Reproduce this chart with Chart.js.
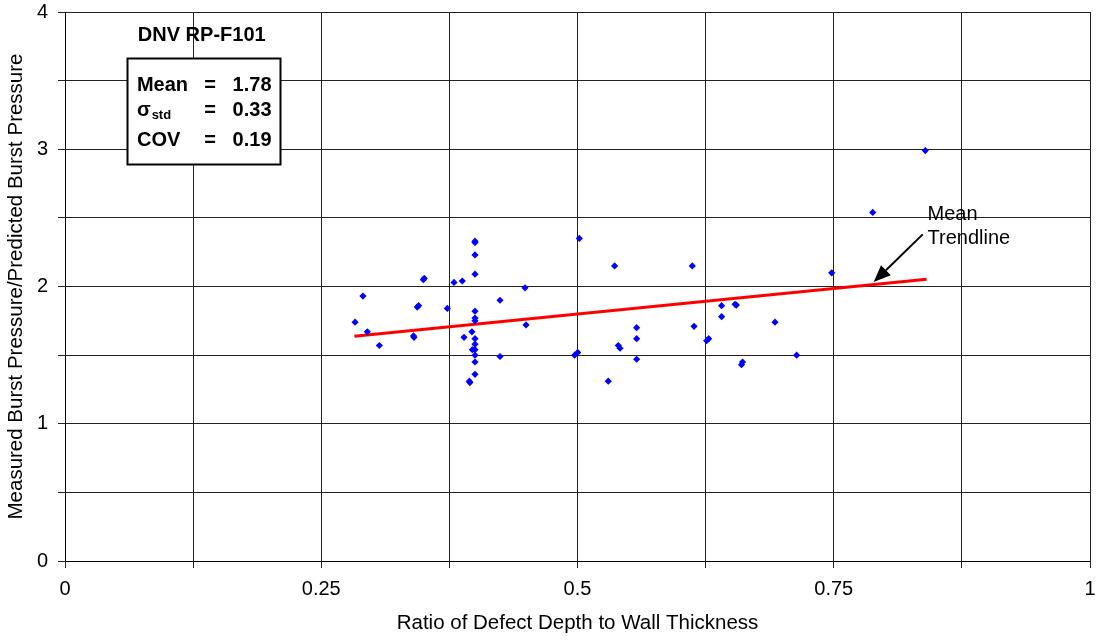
<!DOCTYPE html>
<html>
<head>
<meta charset="utf-8">
<title>DNV RP-F101 burst pressure ratio</title>
<script src="https://cdn.jsdelivr.net/npm/chart.js@4/dist/chart.umd.min.js"></script>
<style>
  html, body { margin: 0; padding: 0; background: #fff; }
  #wrap { width: 1099px; height: 640px; }
</style>
</head>
<body>
<div id="wrap"><canvas id="myChart" width="1099" height="640"></canvas></div>
<script>
// depth ratio d/t for each test
const depthRatio = [
  0.400, 0.400, 0.400, 0.400, 0.3505, 0.3496, 0.3795, 0.3876, 0.2907, 0.4488,
  0.4244, 0.345, 0.3437, 0.373, 0.400, 0.400, 0.400, 0.283, 0.4498, 0.295,
  0.397, 0.340, 0.3405, 0.3893, 0.400, 0.400, 0.3974, 0.400, 0.400, 0.3067,
  0.4244, 0.400, 0.400, 0.3945, 0.395,
  0.5018, 0.5362, 0.612, 0.6406, 0.6537, 0.655, 0.6406, 0.6927, 0.5577, 0.6137,
  0.5577, 0.628, 0.626, 0.5398, 0.5415, 0.5002, 0.4972, 0.5577, 0.7138, 0.661,
  0.660, 0.530,
  0.8393, 0.788, 0.748
];
// measured / predicted burst pressure
const pressureRatio = [
  2.33, 2.32, 2.23, 2.09, 2.06, 2.05, 2.03, 2.04, 1.93, 1.99,
  1.90, 1.86, 1.85, 1.84, 1.82, 1.77, 1.75, 1.74, 1.72, 1.67,
  1.67, 1.64, 1.63, 1.63, 1.62, 1.58, 1.54, 1.54, 1.50, 1.57,
  1.49, 1.45, 1.36, 1.31, 1.30,
  2.35, 2.15, 2.15, 1.86, 1.87, 1.865, 1.78, 1.74, 1.70, 1.71,
  1.62, 1.62, 1.605, 1.57, 1.55, 1.52, 1.50, 1.47, 1.50, 1.45,
  1.43, 1.31,
  2.99, 2.54, 2.10
];
// mean trendline end points
const trendX = [0.2823, 0.8406];
const trendY = [1.637, 2.052];

const xTicks = [0, 0.25, 0.5, 0.75, 1];
const yTicks = [0, 1, 2, 3, 4];

const statLabels = ['Mean', 'σ', 'COV'];
const statValues = ['1.78', '0.33', '0.19'];

const FONT = "'Liberation Sans', Arial, Helvetica, sans-serif";

const points = depthRatio.map((d, i) => ({ x: d, y: pressureRatio[i] }));
const trend = trendX.map((d, i) => ({ x: d, y: trendY[i] }));

// keep the plot box fixed: no extra room for the end tick labels
function fixBox(size) {
  return s => {
    if (s.isHorizontal()) s.height = size; else s.width = size;
    s.paddingTop = s.paddingBottom = s.paddingLeft = s.paddingRight = 0;
  };
}

// stats box, title and arrow note, placed in data units
const notes = {
  id: 'notes',
  afterDraw(chart) {
    const ctx = chart.ctx;
    const sx = chart.scales.x, sy = chart.scales.y;
    const px = v => sx.getPixelForValue(v);
    const py = v => sy.getPixelForValue(v);
    ctx.save();
    ctx.fillStyle = '#000';

    // title
    ctx.font = 'bold 20px ' + FONT;
    ctx.textAlign = 'center';
    ctx.textBaseline = 'middle';
    ctx.fillText('DNV RP-F101', px(0.1334), py(3.832));

    // box
    const bx0 = Math.round(px(0.0605)) + 0.5, bx1 = Math.round(px(0.2098)) + 0.5;
    const by0 = Math.round(py(3.665)) + 0.5, by1 = Math.round(py(2.893)) + 0.5;
    ctx.fillStyle = '#fff';
    ctx.fillRect(bx0, by0, bx1 - bx0, by1 - by0);
    ctx.strokeStyle = '#000';
    ctx.lineWidth = 2;
    ctx.strokeRect(bx0, by0, bx1 - bx0, by1 - by0);

    ctx.fillStyle = '#000';
    const rows = [3.468, 3.286, 3.067];
    rows.forEach((r, i) => {
      const yy = py(r);
      ctx.font = 'bold 20px ' + FONT;
      ctx.textAlign = 'left';
      ctx.fillText(statLabels[i], px(0.0702), yy);
      if (i === 1) {
        const w = ctx.measureText(statLabels[i]).width;
        ctx.font = 'bold 13px ' + FONT;
        ctx.fillText('std', px(0.0702) + w + 1, yy + 5);
        ctx.font = 'bold 20px ' + FONT;
      }
      ctx.textAlign = 'center';
      ctx.fillText('=', px(0.1415), yy);
      ctx.textAlign = 'right';
      ctx.fillText(statValues[i], px(0.2015), yy);
    });

    // arrow pointing at the trendline
    const ax0 = px(0.8368), ay0 = py(2.380);
    const ax1 = px(0.789), ay1 = py(2.032);
    const ang = Math.atan2(ay1 - ay0, ax1 - ax0);
    const head = 17, half = 7;
    const hx = ax1 - head * Math.cos(ang), hy = ay1 - head * Math.sin(ang);
    ctx.strokeStyle = '#000';
    ctx.lineWidth = 2;
    ctx.beginPath();
    ctx.moveTo(ax0, ay0);
    ctx.lineTo(hx, hy);
    ctx.stroke();
    ctx.beginPath();
    ctx.moveTo(ax1, ay1);
    ctx.lineTo(hx + half * Math.sin(ang), hy - half * Math.cos(ang));
    ctx.lineTo(hx - half * Math.sin(ang), hy + half * Math.cos(ang));
    ctx.closePath();
    ctx.fill();

    ctx.font = '20px ' + FONT;
    ctx.textAlign = 'left';
    ctx.fillText('Mean', px(0.8415), py(2.528));
    ctx.fillText('Trendline', px(0.8415), py(2.353));
    ctx.restore();
  }
};

const ctx = document.getElementById('myChart').getContext('2d');
const myChart = new Chart(ctx, {
  type: 'scatter',
  data: {
    datasets: [
      {
        label: 'Tests',
        data: points,
        pointStyle: 'rectRot',
        pointRadius: 3.6,
        backgroundColor: '#0000ff',
        borderColor: '#0000ff',
        borderWidth: 0
      },
      {
        label: 'Mean trendline',
        data: trend,
        showLine: true,
        pointRadius: 0,
        borderColor: '#ff0000',
        borderWidth: 3,
        fill: false
      }
    ]
  },
  options: {
    responsive: false,
    animation: false,
    layout: { padding: { top: 12, right: 9, left: 0, bottom: 0 } },
    plugins: {
      legend: { display: false },
      tooltip: { enabled: false }
    },
    scales: {
      x: {
        type: 'linear',
        min: 0,
        max: 1,
        afterFit: fixBox(79),
        border: { color: '#000', width: 1 },
        grid: { color: '#222', lineWidth: 1, tickLength: 7 },
        ticks: {
          stepSize: 0.125,
          autoSkip: false,
          maxRotation: 0,
          padding: 9,
          color: '#000',
          font: { family: FONT, size: 20 },
          callback: v => (xTicks.includes(v) ? String(v) : '')
        },
        title: {
          display: true,
          text: 'Ratio of Defect Depth to Wall Thickness',
          color: '#000',
          font: { family: FONT, size: 20.5 },
          padding: { top: 0, bottom: 4 }
        }
      },
      y: {
        min: 0,
        max: 4,
        afterFit: fixBox(65),
        border: { color: '#000', width: 1 },
        grid: { color: '#222', lineWidth: 1, tickLength: 7 },
        ticks: {
          stepSize: 0.5,
          autoSkip: false,
          padding: 10,
          color: '#000',
          font: { family: FONT, size: 20 },
          callback: v => (yTicks.includes(v) ? String(v) : '')
        },
        title: {
          display: true,
          text: 'Measured Burst Pressure/Predicted Burst Pressure',
          color: '#000',
          font: { family: FONT, size: 20.5 },
          padding: { top: 4, bottom: 0 }
        }
      }
    }
  },
  plugins: [notes]
});
</script>
</body>
</html>
